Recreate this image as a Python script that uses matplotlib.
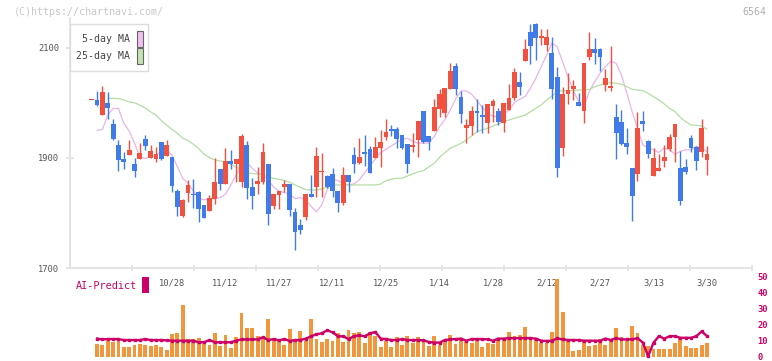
import matplotlib
matplotlib.use("Agg")
import matplotlib.pyplot as plt
import matplotlib.patches as patches
import numpy as np

# ---------------- data ----------------
opens = [2005, 2005, 1979, 2000, 1962, 1924, 1898, 1906, 1889, 1898,
         1935, 1900, 1898, 1929, 1904, 1902, 1840, 1795, 1836, 1834,
         1838, 1815, 1804, 1826, 1880, 1853, 1895, 1889, 1856, 1924,
         1847, 1853, 1856, 1889, 1813, 1833, 1847, 1853, 1802, 1778,
         1793, 1835, 1847, 1875, 1867, 1871, 1840, 1818, 1869, 1906,
         1891, 1910, 1916, 1900, 1918, 1938, 1953, 1953, 1942, 1926,
         1920, 1933, 1986, 1940, 1949, 1989, 1982, 2026, 2067, 2011,
         1955, 1958, 1986, 1978, 1964, 1995, 1986, 1964, 1987, 2009,
         2038, 2076, 2129, 2144, 2118, 2106, 2091, 2047, 1918, 2016,
         2026, 2002, 1986, 2084, 2098, 2098, 2033, 2028, 1975, 1966,
         1927, 1882, 1871, 1967, 1931, 1867, 1876, 1895, 1916, 1938,
         1882, 1884, 1936, 1920, 1911, 1896]
highs = [2005, 2022, 2030, 2020, 1971, 1933, 1911, 1933, 1900, 1927,
         1942, 1924, 1920, 1929, 1933, 1902, 1844, 1825, 1860, 1862,
         1840, 1815, 1833, 1900, 1880, 1918, 1915, 1898, 1944, 1931,
         1864, 1884, 1927, 1889, 1835, 1840, 1860, 1853, 1809, 1789,
         1835, 1869, 1920, 1909, 1869, 1882, 1840, 1884, 1869, 1920,
         1936, 1942, 1922, 1938, 1951, 1971, 1960, 1957, 1942, 1926,
         1946, 1967, 1986, 1940, 2007, 2026, 2027, 2073, 2073, 2022,
         1971, 1995, 2007, 1996, 1998, 2007, 1991, 2000, 2035, 2064,
         2056, 2116, 2144, 2146, 2135, 2135, 2120, 2066, 2029, 2055,
         2042, 2018, 2073, 2129, 2118, 2100, 2062, 2104, 1998, 1987,
         1955, 1882, 1984, 1986, 1933, 1918, 1907, 1924, 1944, 1962,
         1913, 1898, 1942, 1921, 1971, 1922]
lows = [2005, 1995, 1979, 1970, 1933, 1877, 1880, 1906, 1866, 1898,
        1915, 1900, 1893, 1896, 1904, 1838, 1795, 1793, 1820, 1809,
        1784, 1791, 1804, 1816, 1842, 1853, 1880, 1856, 1847, 1826,
        1807, 1835, 1853, 1778, 1807, 1807, 1838, 1795, 1733, 1762,
        1787, 1829, 1829, 1829, 1845, 1829, 1802, 1815, 1838, 1873,
        1889, 1886, 1873, 1900, 1884, 1933, 1940, 1918, 1916, 1873,
        1911, 1902, 1928, 1915, 1949, 1975, 1975, 2026, 2015, 1964,
        1927, 1942, 1947, 1946, 1946, 1966, 1960, 1947, 1987, 2006,
        2015, 2076, 2071, 2078, 2106, 2095, 2007, 1866, 1904, 1998,
        2006, 1995, 1964, 2078, 2071, 2058, 2022, 2022, 1898, 1924,
        1907, 1786, 1858, 1949, 1900, 1867, 1876, 1884, 1913, 1893,
        1815, 1871, 1911, 1878, 1902, 1869]
closes = [2005, 1996, 2020, 1990, 1935, 1896, 1893, 1915, 1877, 1909,
          1922, 1913, 1907, 1898, 1924, 1849, 1811, 1824, 1851, 1832,
          1807, 1791, 1827, 1856, 1853, 1895, 1889, 1898, 1940, 1846,
          1831, 1858, 1911, 1798, 1835, 1840, 1853, 1806, 1766, 1769,
          1835, 1829, 1904, 1877, 1847, 1840, 1818, 1869, 1856, 1889,
          1902, 1908, 1873, 1920, 1929, 1947, 1949, 1935, 1918, 1889,
          1924, 1967, 1929, 1929, 1993, 2016, 2027, 2058, 2026, 1980,
          1960, 1986, 1982, 1975, 1998, 2004, 1966, 2000, 2009, 2056,
          2029, 2098, 2104, 2118, 2122, 2120, 2026, 1882, 2016, 2024,
          2031, 1995, 2073, 2098, 2091, 2084, 2046, 2030, 1946, 1926,
          1920, 1831, 1955, 1962, 1907, 1900, 1882, 1902, 1938, 1962,
          1822, 1875, 1918, 1895, 1955, 1907]

# 5-day MA (from candle 1), 25-day MA (from candle 3)
ma5 = [1950, 1952, 1978, 1990, 1990, 1963, 1949, 1927, 1902, 1899,
       1902, 1905, 1912, 1913, 1906, 1884, 1863, 1854, 1840, 1827,
       1824, 1826, 1826, 1828, 1834, 1851, 1869, 1887, 1892, 1881,
       1873, 1869, 1860, 1847, 1840, 1837, 1835, 1826, 1828, 1824,
       1812, 1802, 1815, 1842, 1860, 1859, 1854, 1851, 1853, 1860,
       1873, 1886, 1898, 1910, 1916, 1922, 1928, 1934, 1936, 1930,
       1927, 1927, 1927, 1939, 1957, 1970, 1987, 2007, 2022, 2022,
       2016, 2004, 1992, 1980, 1976, 1975, 1980, 1987, 2001, 2007,
       2012, 2027, 2045, 2066, 2087, 2109, 2102, 2075, 2048, 2024,
       2002, 1993, 2021, 2039, 2054, 2066, 2076, 2072, 2051, 2018,
       1984, 1954, 1924, 1918, 1915, 1910, 1918, 1915, 1907, 1912,
       1915, 1915, 1921, 1918, 1912]
ma25 = [2008.5, 2008.5, 2008, 2005.5, 2002, 2000.5, 1996, 1991, 1984, 1978,
        1968, 1960, 1952, 1945, 1936, 1931.5, 1925, 1917, 1907, 1900.6,
        1896.4, 1894.5, 1892.7, 1888.5, 1883.6, 1878, 1873, 1872, 1871, 1868.5,
        1866, 1863, 1861, 1859.4, 1855.8, 1851, 1846.7, 1842.4, 1841.8, 1841.8,
        1843.6, 1846.7, 1851, 1851, 1851, 1851, 1851, 1851, 1851, 1851,
        1851, 1852.7, 1858.8, 1861.2, 1863, 1863, 1867.3, 1871, 1875, 1877,
        1884, 1890, 1901.3, 1909.7, 1917.6, 1921.8, 1926.7, 1932.7, 1940, 1947.8,
        1951, 1954, 1958.2, 1961.8, 1966, 1969, 1972.2, 1975, 1978, 1984,
        1990.4, 1996.4, 2005.5, 2012.7, 2020.6, 2022.4, 2022.4, 2022.4, 2023.6, 2023.6,
        2024.8, 2029.6, 2032.7, 2035.8, 2037, 2035.8, 2034, 2029.6, 2024.8, 2023.6,
        2022.4, 2017.6, 2011.5, 2005.5, 1998.2, 1990.4, 1984.2, 1974, 1966, 1960,
        1959.4, 1958.2, 1952.2]

# volume (orange bars) and AI-Predict line, from candle 1
volume = [7.9, 7.3, 10, 9.2, 10.9, 6.1, 6.5, 7.3, 7.9, 7.3,
          6.7, 7.3, 6.1, 4.2, 14.2, 14.8, 32.3, 11, 11, 11.7,
          7.9, 7.3, 14.8, 6.7, 13.6, 5.4, 12.3, 27.3, 17.9, 17.9,
          12.9, 12.3, 23.6, 11, 9.8, 7.3, 17.3, 11, 16, 9.8,
          23.6, 11, 9.2, 11, 9.8, 14.8, 9.2, 16.7, 14.8, 15.4,
          8.6, 15.4, 12.9, 6.1, 9.8, 6.1, 12.3, 7.3, 12.9, 8.8,
          12.3, 9.2, 6.7, 12.9, 7.3, 9.8, 13.6, 7.9, 10.4, 9.2,
          8.6, 11, 6.1, 8.6, 7.9, 11, 11, 15.4, 12.9, 13.6,
          18.5, 11, 11, 8.6, 8.6, 15.4, 49, 28, 11, 3.7,
          4.5, 10.4, 6.7, 7.3, 11, 7.3, 11, 17.9, 12.3, 9.8,
          19.2, 15, 7.3, 6.7, 5, 5, 5, 5, 8.6, 12,
          6.7, 5.4, 5.4, 7.3, 8.6]
ai_predict = [11.5, 11, 11.2, 11.2, 11.2, 10.6, 10.6, 10.6, 10.6, 11.2,
              10.6, 10.6, 10.6, 10.4, 10.2, 10.2, 10.2, 10.2, 10.2, 9.2,
              9.2, 10.6, 9.2, 9.2, 9.2, 9.2, 10.2, 11, 11, 11,
              11, 12.3, 10.6, 11.2, 10.4, 11.2, 10, 10.6, 10.6, 11.5,
              12.9, 14.2, 14.8, 16.7, 15.4, 13, 12.9, 11.2, 13, 13.6,
              12.9, 14.8, 15.6, 11.5, 11.2, 10.6, 10.6, 11.2, 10.6, 10.6,
              10.6, 10.4, 9.4, 9, 9, 10.6, 11, 11.2, 11.5, 10.2,
              11.2, 11.2, 11.2, 11, 10.2, 11.5, 11.5, 11.8, 11.8, 11.8,
              11.8, 11.8, 11.5, 10.2, 10, 10.2, 11.6, 11, 10.6, 10.6,
              10.6, 10.2, 10.2, 10.2, 10.2, 11.5, 10.6, 11.8, 11, 11,
              11, 11.8, 9, 0.5, 9, 13, 11.5, 13, 13, 12,
              12, 12, 13, 16, 13]

date_labels = ['10/28', '11/12', '11/27', '12/11', '12/25', '1/14',
               '1/28', '2/12', '2/27', '3/13', '3/30']
price_ticks = [1700, 1900, 2100]
ai_ticks = [0, 10, 20, 30, 40, 50]

# ---------------- layout ----------------
W, H = 772, 361
fig = plt.figure(figsize=(W / 100, H / 100), dpi=100)
fig.patch.set_facecolor('white')
MONO = 'DejaVu Sans Mono'

def fx(x):
    return x / W

def fy(y):
    return 1 - y / H

ax_left, ax_right = 70, 752
main_top, main_bot = 18, 268
ax = fig.add_axes([fx(ax_left), fy(main_bot), (ax_right - ax_left) / W,
                   (main_bot - main_top) / H])
n = len(closes)
xs = np.arange(n)
xmin, xmax = -4.06, 123.4
ax.set_xlim(xmin, xmax)
ax.set_ylim(1700, 2154.5)

RED = '#f2513f'
BLUE = '#3f7be9'
for i in range(n):
    o, h, l, c = opens[i], highs[i], lows[i], closes[i]
    col = RED if c >= o else BLUE
    ax.vlines(xs[i], l, h, color=col, lw=1.0, zorder=3)
    body = max(abs(c - o), 1.6)
    ax.bar(xs[i], body, bottom=min(o, c), width=0.9, color=col,
           edgecolor='none', zorder=3)

ax.plot(xs[1:1 + len(ma5)], ma5, color='#eab4ea', lw=0.9, zorder=2)
ax.plot(xs[3:3 + len(ma25)], ma25, color='#b5dca5', lw=0.9, zorder=2)

for s in ['top', 'right']:
    ax.spines[s].set_visible(False)
for s in ['left', 'bottom']:
    ax.spines[s].set_color('#e2e2e2')
    ax.spines[s].set_linewidth(1.3)

ax.set_yticks(price_ticks)
ax.set_yticklabels([str(v) for v in price_ticks], fontfamily=MONO,
                   fontsize=6.3, color='#555555')
ax.tick_params(axis='y', direction='inout', length=5.5, width=1.2,
               color='#e2e2e2', pad=5)

major = np.linspace(xmin, xmax, 12)[1:]
ax.set_xticks(major)
ax.set_xticklabels([''] * len(major))
ax.tick_params(axis='x', which='major', direction='inout', length=4,
               width=1.2, color='#e2e2e2')
ax.set_xticks(np.arange(15, 116, 10), minor=True)
ax.set_xticklabels(date_labels, minor=True, fontfamily=MONO, fontsize=6.3,
                   color='#555555')
ax.tick_params(axis='x', which='minor', length=0, pad=7.8)

# ---------------- bottom panel ----------------
ai_top, ai_bot = 277.0, 357.0
ax2 = fig.add_axes([fx(ax_left), fy(ai_bot), (ax_right - ax_left) / W,
                    (ai_bot - ai_top) / H])
ax2.set_xlim(xmin, xmax)
ax2.set_ylim(0, 50)
vx = xs[1:1 + len(volume)]
ax2.bar(vx, volume, width=0.72, color='#f0963c', edgecolor='none',
        clip_on=False, zorder=2)
ax2.plot(vx, ai_predict, color='#cc0066', lw=1.7, marker='s',
         markersize=1.8, clip_on=False, zorder=3)
for s in ax2.spines.values():
    s.set_visible(False)
ax2.set_xticks([])
ax2.yaxis.tick_right()
ax2.set_yticks(ai_ticks)
ax2.set_yticklabels([str(v) for v in ai_ticks], fontfamily=MONO,
                    fontsize=6.3, color='#cc0066', fontweight='bold')
ax2.tick_params(axis='y', length=0, pad=4)
ax2.set_facecolor('none')

fig.text(fx(76), fy(286), 'AI-Predict', color='#cc0066', fontfamily=MONO,
         fontsize=7.3, ha='left', va='center')
fig.patches.append(patches.Rectangle((fx(142), fy(293)), 7 / W, 16 / H,
                                     transform=fig.transFigure,
                                     facecolor='#cc0066', edgecolor='none'))

# ---------------- legend ----------------
fig.patches.append(patches.Rectangle((fx(70), fy(71)), 78 / W, 47 / H,
                                     transform=fig.transFigure,
                                     facecolor='white', edgecolor='#dddddd',
                                     lw=1.0, zorder=5))
for label, yc, col in [('5-day MA', 39, '#f0c0f0'),
                       ('25-day MA', 56, '#c2e3b4')]:
    fig.text(fx(130), fy(yc), label, color='#444444', fontfamily=MONO,
             fontsize=7.1, ha='right', va='center', zorder=6)
    fig.patches.append(patches.Rectangle((fx(137), fy(yc + 7.5)), 5.5 / W,
                                         15 / H, transform=fig.transFigure,
                                         facecolor=col, edgecolor='#666666',
                                         lw=0.8, zorder=6))

fig.text(fx(14), fy(12), '(C)https://chartnavi.com/', color='#c8c8c8',
         fontfamily=MONO, fontsize=7.2, ha='left', va='center')
fig.text(fx(766), fy(12), '6564', color='#b0b0b0', fontfamily=MONO,
         fontsize=7.2, ha='right', va='center')

fig.savefig('out.png', dpi=100, facecolor='white')
